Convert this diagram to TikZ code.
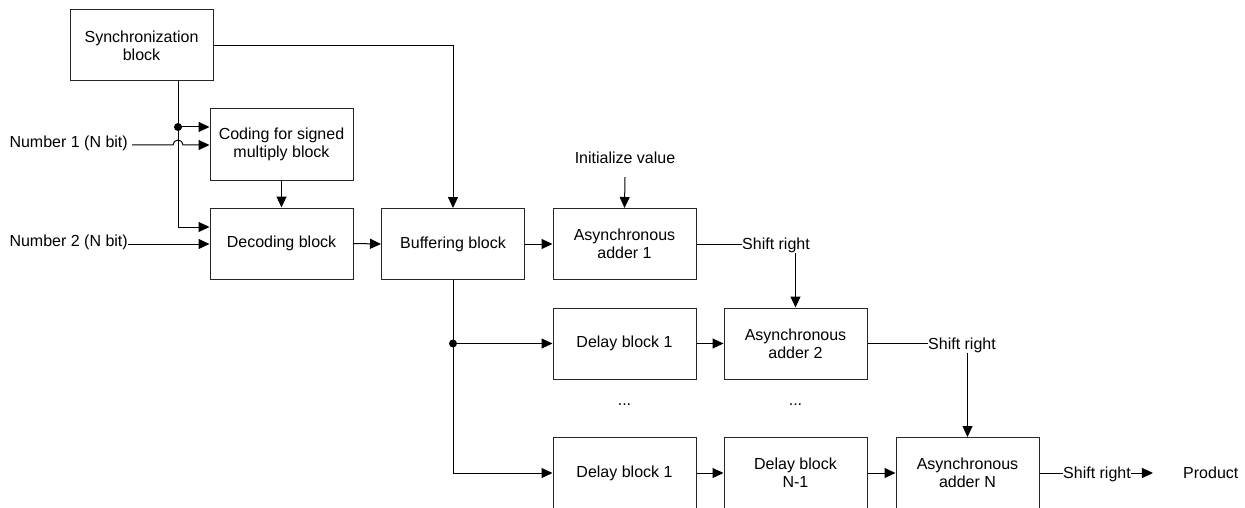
\documentclass[tikz,border=0pt]{standalone}
\usepackage{fontspec}
\setmainfont{Liberation Sans}
\usetikzlibrary{arrows.meta}
\begin{document}
\begin{tikzpicture}[x=1pt,y=-1pt,
  blk/.style={draw=black!85,line width=1pt,minimum width=143pt,minimum height=71pt,
    inner sep=0pt,align=center,font=\fontsize{16}{18}\selectfont},
  lbl/.style={inner sep=0pt,font=\fontsize{16}{18}\selectfont},
  wire/.style={draw=black,line width=1pt},
  arr/.style={wire,-{Triangle[length=11pt,width=10pt]}},
  jdot/.style={fill=black,circle,inner sep=0pt,minimum size=8pt}]
\useasboundingbox (0,0) rectangle (1245,508);

% blocks
\node[blk] (sync) at (141.5,45.5) {Synchronization\\block};
\node[blk] (cod)  at (281.5,144.5) {Coding for signed\\multiply block};
\node[blk] (dec)  at (281.5,243.5) {Decoding block};
\node[blk] (buf)  at (453,244)   {Buffering block};
\node[blk] (add1) at (624.5,244) {Asynchronous\\adder 1};
\node[blk] (dla)  at (624.5,343.5) {Delay block 1};
\node[blk] (add2) at (795.5,343.5) {Asynchronous\\adder 2};
\node[blk] (dlb)  at (624.5,473) {Delay block 1};
\node[blk] (dln)  at (795.5,473) {Delay block\\N-1};
\node[blk] (addn) at (967.5,473) {Asynchronous\\adder N};

% free labels
\node[lbl,anchor=mid east] (n1) at (128,145) {Number 1 (N bit)};
\node[lbl,anchor=mid east] (n2) at (128,244) {Number 2 (N bit)};
\node[lbl] (init) at (625,158) {Initialize value};
\node[lbl,anchor=base west] (sr1) at (742,249) {Shift right};
\node[lbl,anchor=base west] (sr2) at (928,349) {Shift right};
\node[lbl,anchor=base west] (sr3) at (1063,478) {Shift right};
\node[lbl,anchor=base west] (prod) at (1183,478) {Product};
\node[lbl] (dots1) at (624.5,405) {...};
\node[lbl] (dots2) at (795.5,405) {...};

% junction points
\coordinate (jn) at (178,127);
\coordinate (jd) at (178,227);
\coordinate (bj) at (buf.south |- dla.west);

% synchronization fan-out
\draw[arr] (sync.east) -| (buf.north);
\draw[wire] (sync.south -| jn) -- (jn);
\draw[arr] (jn) -- (jn -| cod.west);
\draw[arr] (jn) -- (jd) -- (jd -| dec.west);
\node[jdot] at (jn) {};

% number inputs (number 1 hops over the vertical wire)
\draw[arr] ([xshift=4pt]n1.mid east) -- (n1.mid east -| 173,0)
  arc[start angle=180,end angle=0,radius=5pt] -- (n1.mid east -| cod.west);
\draw[arr] (n2.mid east) -- (n2.mid east -| dec.west);

% main chain
\draw[arr] (cod.south) -- (dec.north);
\draw[arr] (dec.east) -- (buf.west);
\draw[arr] (buf.east) -- (add1.west);
\draw[arr] ([yshift=-13pt]init.south) -- (add1.north);

% delay branches
\draw[wire] (buf.south) -- (bj);
\draw[arr] (bj) -- (dla.west);
\draw[arr] (bj) |- (dlb.west);
\node[jdot] at (bj) {};
\draw[arr] (dla.east) -- (add2.west);
\draw[arr] (dlb.east) -- (dln.west);
\draw[arr] (dln.east) -- (addn.west);

% shift-right links
\draw[wire] (add1.east) -- (add1.east -| sr1.west);
\draw[arr] (sr1.south -| add2.north) -- (add2.north);
\draw[wire] (add2.east) -- (add2.east -| sr2.west);
\draw[arr] (sr2.south -| addn.north) -- (addn.north);
\draw[wire] (addn.east) -- (addn.east -| sr3.west);
\draw[arr] (addn.east -| sr3.east) -- ++(22,0);
\end{tikzpicture}
\end{document}
